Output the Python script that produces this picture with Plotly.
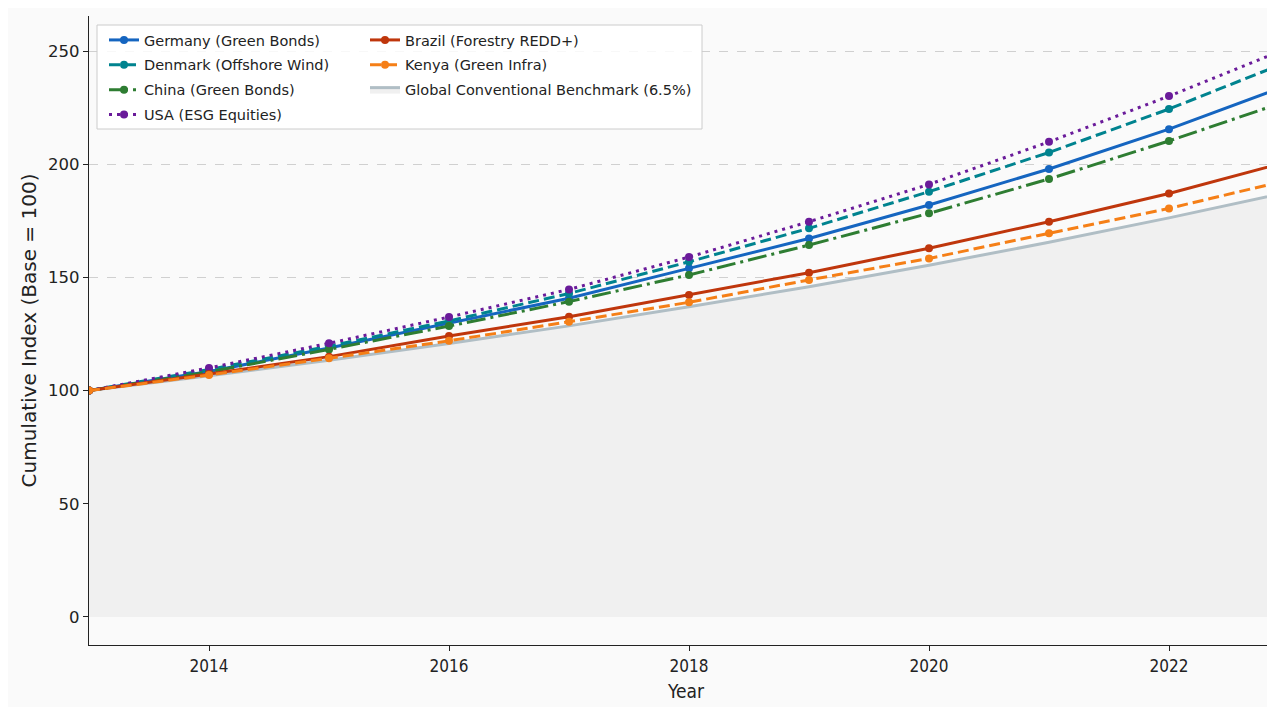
import plotly.graph_objects as go

years = [2013, 2014, 2015, 2016, 2017, 2018, 2019, 2020, 2021, 2022, 2023]
germany = [100, 108.4, 118.8, 129.7, 140.8, 154.0, 167.2, 182.0, 197.9, 215.5, 235.1]
denmark = [100, 109.3, 119.6, 130.8, 142.9, 156.9, 171.7, 187.9, 205.2, 224.4, 245.5]
china = [100, 108.2, 118.2, 128.5, 139.3, 151.1, 164.3, 178.3, 193.5, 210.3, 228.2]
usa = [100, 110.0, 120.9, 132.5, 144.7, 159.0, 174.6, 191.1, 209.9, 230.1, 251.5]
brazil = [100, 107.3, 115.0, 124.1, 132.6, 142.2, 152.1, 162.9, 174.6, 187.1, 201.3]
kenya = [100, 106.9, 114.3, 122.0, 130.4, 139.0, 148.9, 158.4, 169.5, 180.5, 193.1]
benchmark = [100, 106.5, 113.4, 120.8, 128.6, 137.0, 145.9, 155.4, 165.5, 176.3, 187.7]

names = ["Germany (Green Bonds)", "Denmark (Offshore Wind)", "China (Green Bonds)",
         "USA (ESG Equities)", "Brazil (Forestry REDD+)", "Kenya (Green Infra)",
         "Global Conventional Benchmark (6.5%)"]

fig = go.Figure()

fig.add_trace(go.Scatter(
    x=years, y=benchmark, mode="lines", name=names[6],
    line=dict(color="#b0bec5", width=3), fill="tozeroy", fillcolor="#f0f0f0",
    legend="legend2", legendgroup="g7", legendrank=3))

series = [
    (germany, names[0], "#1565c0", "solid", "legend", 1),
    (denmark, names[1], "#00838f", "11px,5px", "legend", 2),
    (china, names[2], "#2e7d32", "19px,5px,3px,5px", "legend", 3),
    (usa, names[3], "#6a1b9a", "3px,5px", "legend", 4),
    (brazil, names[4], "#bf360c", "solid", "legend2", 1),
    (kenya, names[5], "#f57f17", "11px,5px", "legend2", 2),
]
for i, (vals, nm, col, dash, lg, rk) in enumerate(series):
    fig.add_trace(go.Scatter(
        x=years, y=vals, mode="lines+markers", name=nm,
        line=dict(color=col, width=3, dash=dash),
        marker=dict(color=col, size=8),
        legend=lg, legendgroup="g%d" % i, legendrank=rk))

W, H = 1275, 707
L, R, T, B = 81, 1275, 8, 637
pw, ph = R - L, B - T


def px(x):
    return (x - L) / pw


def py(y):
    return (B - y) / ph


legend_common = dict(xanchor="left", yanchor="top", bgcolor="rgba(0,0,0,0)",
                     font=dict(size=14.5, color="#222222"),
                     tracegroupgap=3, itemwidth=30)

fig.update_layout(
    width=W, height=H,
    margin=dict(l=L, r=W - R, t=T, b=H - B),
    paper_bgcolor="#fafafa", plot_bgcolor="#fafafa",
    font=dict(family="DejaVu Sans", size=15, color="#222222"),
    showlegend=True,
    legend=dict(x=px(96), y=py(16), **legend_common),
    legend2=dict(x=px(357), y=py(16), **legend_common),
    shapes=[
        dict(type="rect", xref="paper", yref="paper", x0=px(89), x1=px(694),
             y0=py(121), y1=py(17), fillcolor="rgba(255,255,255,0.85)",
             line=dict(color="#cccccc", width=1), layer="above"),
    ],
)

fig.update_xaxes(
    range=[2013, 2013 + pw / 120.0], tickvals=[2014, 2016, 2018, 2020, 2022],
    tickfont=dict(family="DejaVu Sans Condensed", size=17),
    showgrid=False, zeroline=False, showline=True, linecolor="#222222", linewidth=1.2,
    ticks="outside", ticklen=5, tickcolor="#222222",
    title=dict(text="Year", font=dict(family="DejaVu Sans Condensed", size=19), standoff=10))
fig.update_yaxes(
    range=[-12.4, 265.5], tickvals=[0, 50, 100, 150, 200, 250],
    tickfont=dict(size=16.5),
    showgrid=True, gridcolor="#d0d0d0", griddash="dash", gridwidth=1,
    zeroline=False, showline=True, linecolor="#222222", linewidth=1.2,
    ticks="outside", ticklen=5, tickcolor="#222222",
    title=dict(text="Cumulative Index (Base = 100)", font=dict(size=20), standoff=6))

fig.write_html("out.html")
